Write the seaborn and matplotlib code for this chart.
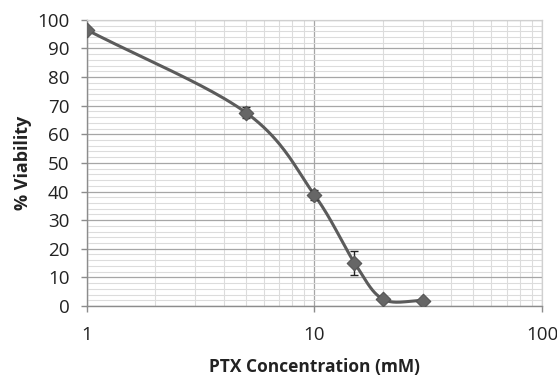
import numpy as np
import pandas as pd
import matplotlib
matplotlib.use("Agg")
import matplotlib.pyplot as plt
import seaborn as sns
from matplotlib.ticker import FixedLocator, MultipleLocator, LogLocator, NullFormatter

conc = [1, 5, 10, 15, 20, 30]
viability = [96.5, 67.6, 38.8, 15.1, 2.4, 1.9]
err = [0.0, 1.8, 1.8, 4.2, 0.5, 0.3]
xticks = [1, 10, 100]
xticklabels = ["1", "10", "100"]

sns.set_theme(style="white")
plt.rcParams['font.family'] = ['Open Sans', 'DejaVu Sans']

fig = plt.figure(figsize=(5.57, 3.75), dpi=100)
ax = fig.add_axes([0.156, 0.184, 0.817, 0.763])

# Smooth curve (Catmull-Rom in log-x space, like Excel smoothing)
lx = np.log10(np.array(conc, dtype=float))
yy = np.array(viability, dtype=float)
P = np.column_stack([lx, yy])
pts = np.vstack([P[0] - (P[1] - P[0]), P, P[-1] + (P[-1] - P[-2])])
curve = []
for i in range(1, len(pts) - 2):
    p0, p1, p2, p3 = pts[i - 1], pts[i], pts[i + 1], pts[i + 2]
    for t in np.linspace(0, 1, 40, endpoint=False):
        t2, t3 = t * t, t * t * t
        c = 0.5 * ((2 * p1) + (-p0 + p2) * t + (2 * p0 - 5 * p1 + 4 * p2 - p3) * t2
                   + (-p0 + 3 * p1 - 3 * p2 + p3) * t3)
        curve.append(c)
curve.append(P[-1])
curve = np.array(curve)
df_curve = pd.DataFrame({"x": 10 ** curve[:, 0], "y": curve[:, 1]})
sns.lineplot(data=df_curve, x="x", y="y", ax=ax, color="#5b5b5b", lw=2.2,
             sort=False, estimator=None, zorder=3)

ax.errorbar(conc, viability, yerr=err, fmt="none", ecolor="#222222",
            elinewidth=1.0, capsize=3, capthick=1.0, zorder=4)
df = pd.DataFrame({"x": conc, "y": viability})
sns.scatterplot(data=df, x="x", y="y", ax=ax, marker="D", s=55,
                color="#666666", edgecolor="#555555", linewidth=0.8, zorder=5)

ax.set_xscale("log")
ax.set_xlim(1, 100)
ax.set_ylim(0, 100)
ax.xaxis.set_major_locator(FixedLocator(xticks))
ax.set_xticklabels(xticklabels)
ax.xaxis.set_minor_locator(LogLocator(base=10, subs=np.arange(2, 10)))
ax.xaxis.set_minor_formatter(NullFormatter())
ax.yaxis.set_major_locator(MultipleLocator(10))
ax.yaxis.set_minor_locator(MultipleLocator(2))

ax.grid(which="major", color="#a6a6a6", lw=0.9)
ax.grid(which="minor", color="#dcdcdc", lw=0.8)
ax.set_axisbelow(True)

for s in ["top", "right"]:
    ax.spines[s].set_color("#d0d0d0")
    ax.spines[s].set_linewidth(0.9)
for s in ["left", "bottom"]:
    ax.spines[s].set_color("#8c8c8c")
    ax.spines[s].set_linewidth(1.0)

ax.tick_params(axis="both", which="major", length=4.5, width=1, color="#8c8c8c",
               labelsize=13.5, labelcolor="#222222", direction="out",
               left=True, bottom=True)
ax.tick_params(axis="y", pad=8)
ax.tick_params(axis="x", pad=10)
ax.tick_params(axis="both", which="minor", length=0)

ax.set_xlabel("PTX Concentration (mM)", fontsize=12.5, fontweight="bold",
              color="#222222", labelpad=10)
ax.set_ylabel("% Viability", fontsize=13, fontweight="bold",
              color="#222222", labelpad=4)

fig.savefig("out.png", dpi=100)
